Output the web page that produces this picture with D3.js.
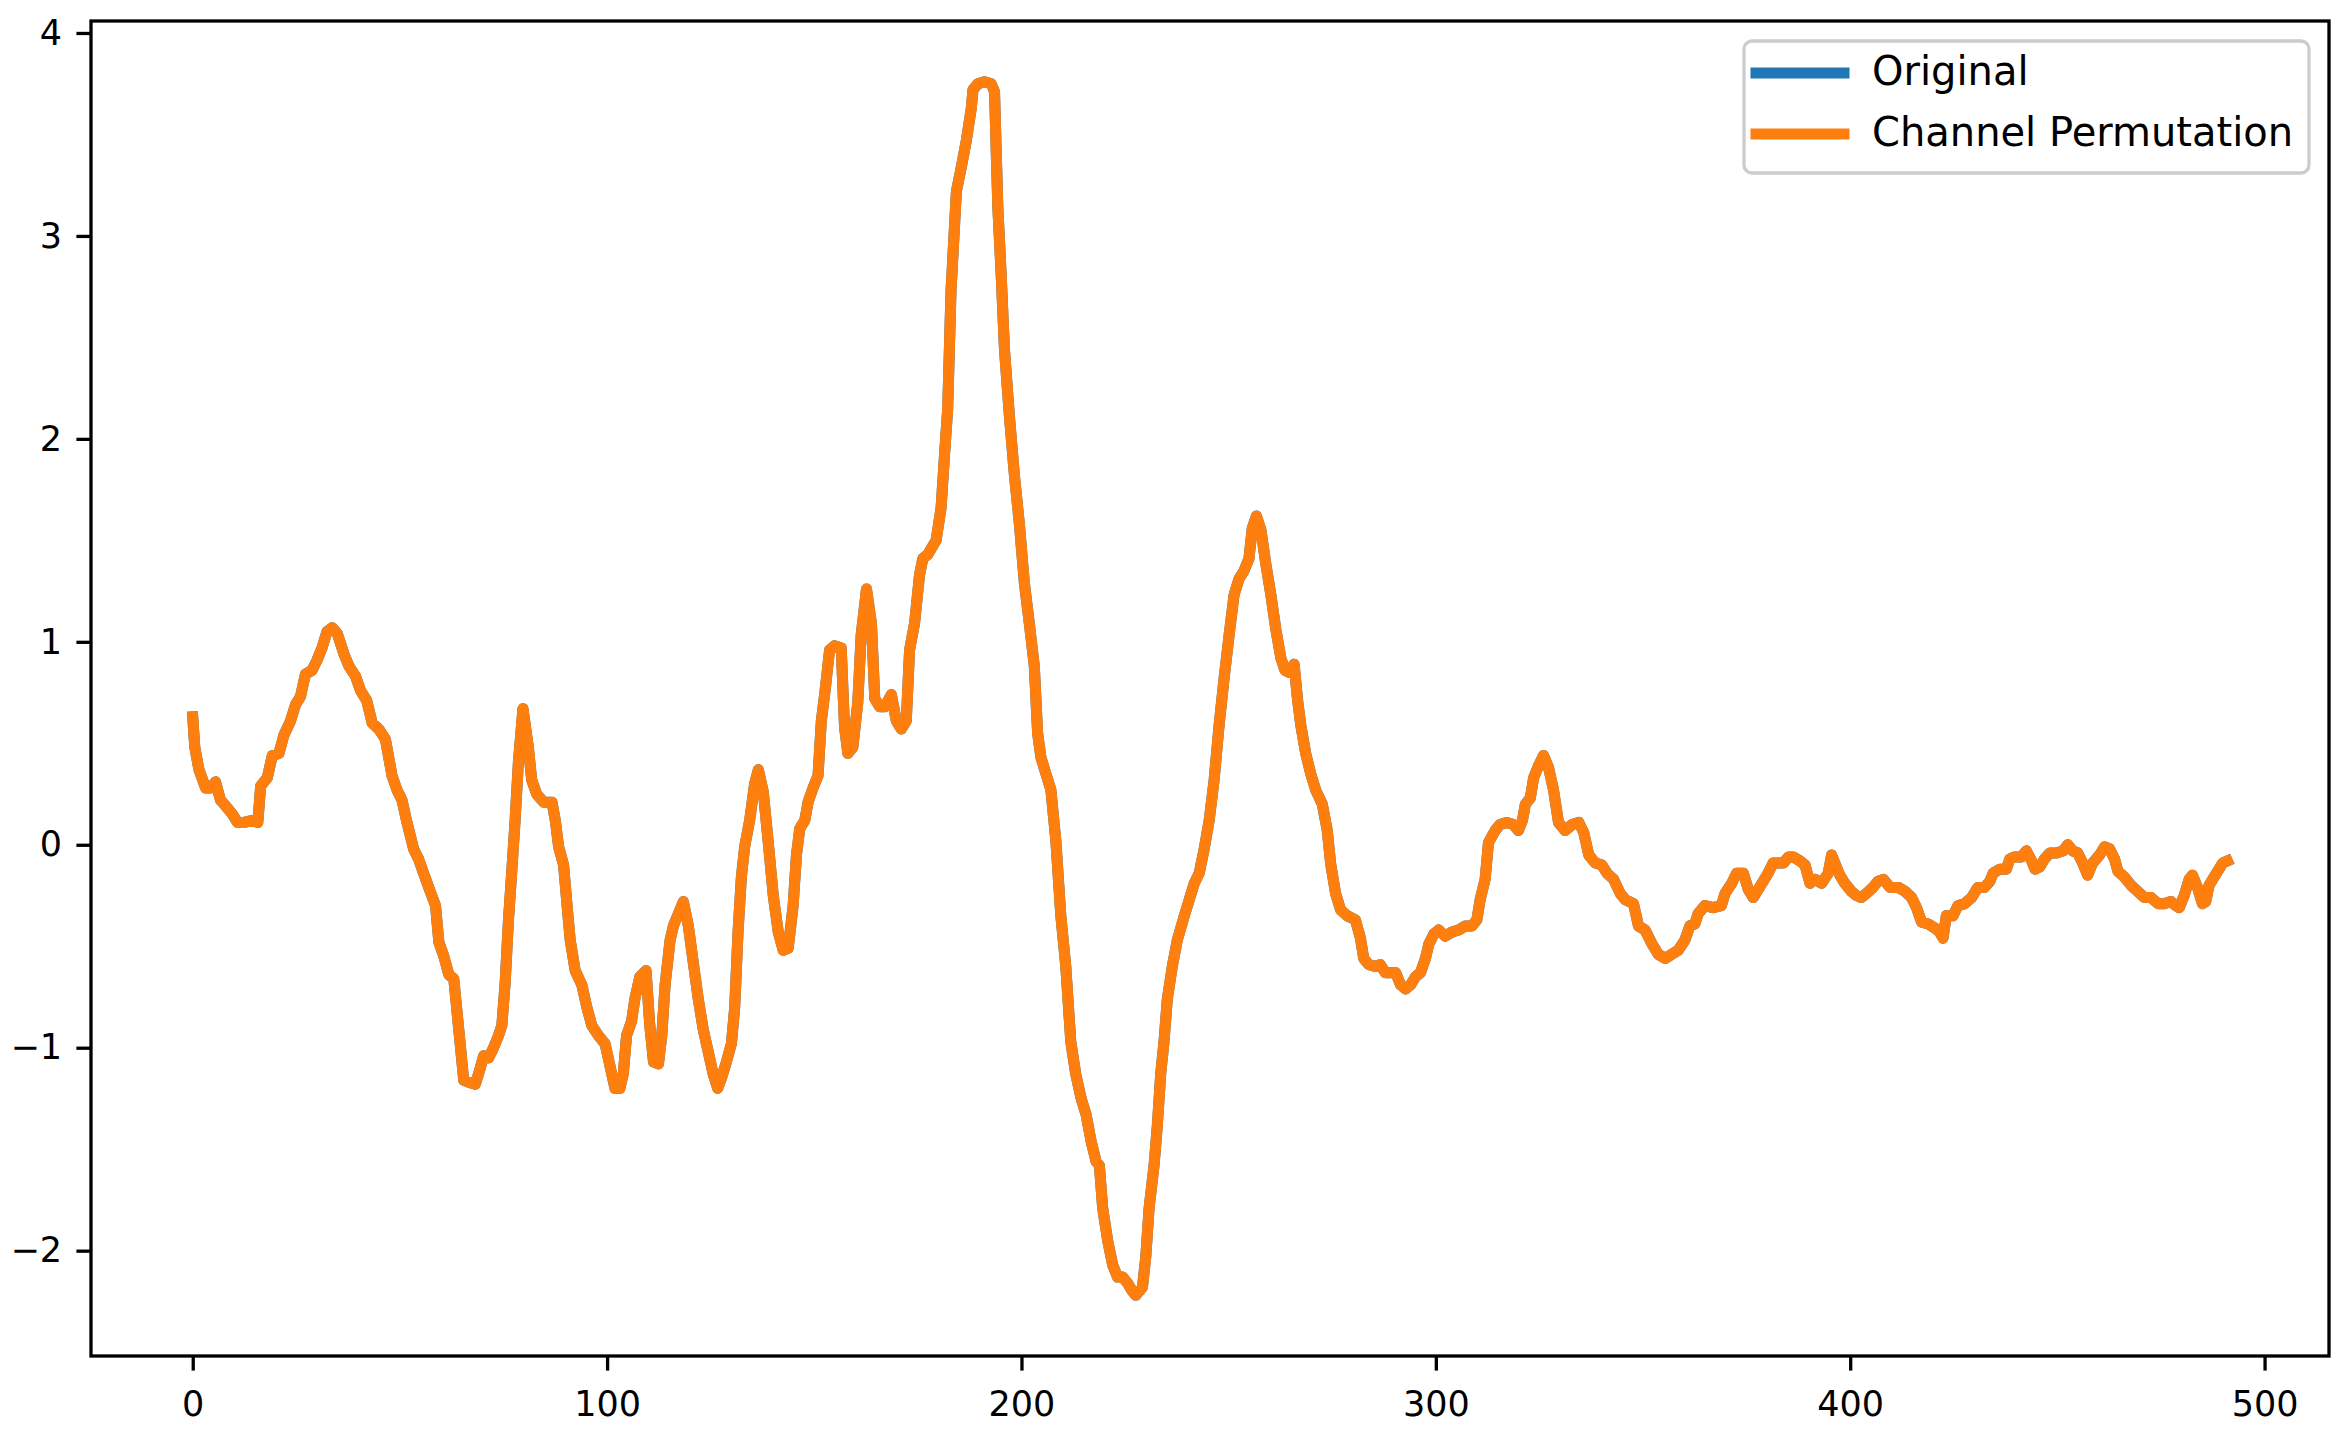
<!DOCTYPE html>
<html>
<head>
<meta charset="utf-8">
<script src="https://cdn.jsdelivr.net/npm/d3@7"></script>
<style>
  body { margin: 0; background: #fff; }
  svg { display: block; }
  text { font-family: "DejaVu Sans", sans-serif; fill: #000; }
</style>
</head>
<body>
<div id="container"><svg></svg></div>
<script>
// time step of each reading (x) and the signal value (y)
const steps = [
  0, 0.5, 1.5, 3.1, 4.3, 5.5, 6.7, 8, 9.6, 10.8, 12.4, 14.4, 15.7, 16.4, 18, 19.2, 20.8, 22, 23.6, 24.8,
  26, 27.2, 28.8, 30, 31.2, 32.4, 33.7, 34.9, 36.5, 37.7, 39.3, 40.5, 42, 43.3, 44.9, 46.5, 48.1, 49.3, 50.5, 51.7,
  53.3, 54.5, 55.7, 57.3, 58.6, 59.4, 60.6, 61.8, 63, 64.2, 65.4, 66.6, 68.2, 69.4, 70.2, 71.4, 72.6, 73.8, 74.6, 75.4,
  76.2, 77, 77.8, 78.6, 79.7, 81, 81.8, 83, 84.7, 86.7, 87.5, 88.3, 89.5, 90.3, 91.1, 92.3, 93.9, 95.1, 96.3, 97.9,
  99.5, 100.7, 101.9, 103.1, 103.9, 104.7, 105.9, 106.7, 107.9, 109.4, 110.3, 111.2, 112.4, 113.2, 114, 115.2, 116, 117.2, 118.4, 119.6,
  120.8, 122, 123.2, 124.4, 125.6, 126.7, 127.6, 128.8, 130, 130.8, 131.6, 132.4, 133.2, 134.4, 135.6, 136.5, 137.7, 138.9, 140.1, 141.3,
  142.5, 143.7, 144.9, 145.7, 146.5, 147.7, 148.5, 149.7, 150.9, 151.7, 152.5, 153.7, 154.9, 156.5, 157.3, 158.1, 159.3, 160.5, 161.3, 162.6,
  163.8, 164.6, 165.8, 167, 168.6, 169.8, 171, 172.2, 173, 174.2, 175.4, 176.2, 177.4, 179.4, 180.6, 181.4, 182.2, 183, 184.3, 185.5,
  186.7, 187.9, 188.3, 189.5, 191.1, 192.7, 193.5, 194.3, 195.1, 195.9, 197.1, 198.3, 199.5, 200.7, 201.9, 203.1, 203.9, 204.7, 205.9, 207.1,
  208.3, 209.5, 210.7, 211.9, 213.1, 214.4, 215.6, 216.8, 218, 218.8, 219.6, 220.8, 222, 223.2, 224.4, 225.6, 226.8, 227.6, 229.2, 230,
  230.8, 232, 232.8, 233.6, 234.4, 235.2, 236.4, 237.6, 239.3, 240.5, 241.7, 242.9, 244.1, 245.3, 246.5, 247.7, 248.9, 250.1, 251.3, 252.5,
  253.7, 254.9, 255.7, 256.7, 257.8, 259, 260.2, 261.4, 262.6, 263.6, 264.6, 265.8, 266.6, 267.4, 268.6, 269.8, 271, 272.6, 273.8, 274.6,
  275.8, 277, 278.6, 280.6, 281.8, 282.6, 283.8, 285.4, 286.6, 287.8, 289, 290.3, 291.5, 292.7, 293.9, 295.1, 296.3, 297.5, 298.3, 299.5,
  300.7, 302.3, 303.9, 305.5, 307.1, 308.7, 309.9, 310.7, 311.9, 312.7, 314.3, 315.5, 317.1, 318.7, 319.9, 320.9, 321.6, 322.8, 323.6, 324.8,
  326, 327.2, 328.4, 329.6, 331.2, 332.9, 334.5, 335.7, 336.9, 338.5, 340.1, 341.3, 342.9, 344.5, 345.7, 347.7, 348.9, 350.5, 352.2, 353.7,
  355.4, 356.9, 358.5, 360.1, 361.3, 362.5, 363.3, 364.9, 366.9, 368.9, 369.8, 371.4, 372.6, 374.2, 375.4, 376.6, 377.8, 379, 380.2, 381.4,
  382.7, 383.9, 385.1, 386.3, 387.9, 389.1, 390.3, 391.5, 393.1, 394.7, 395.5, 396.3, 397.5, 398.7, 400.3, 401.5, 402.7, 403.9, 405.5, 406.7,
  408, 409.6, 411.6, 413.3, 414.8, 416, 417.2, 418.8, 420.4, 421.6, 422.4, 423.2, 424.8, 426, 427.6, 429.3, 430.8, 432.4, 433.7, 434.5,
  436.1, 437.7, 438.5, 439.7, 441.3, 442.5, 443.8, 444.6, 445.7, 446.9, 448.2, 449.8, 451.4, 452.5, 453.7, 454.9, 456.1, 457.3, 458.5, 460.2,
  461.4, 462.6, 463.8, 464.6, 466.2, 467.8, 469.4, 471, 472.6, 474.3, 475.8, 477.4, 478.6, 479.4, 480.6, 481.8, 482.6, 483.8, 485, 485.8,
  486.6, 487.8, 489, 489.9, 491
];
const signal = [
  0.63, 0.48, 0.37, 0.28, 0.28, 0.31, 0.22, 0.19, 0.15, 0.11, 0.11, 0.12, 0.11, 0.29, 0.33, 0.44, 0.45, 0.54, 0.61, 0.69,
  0.73, 0.84, 0.86, 0.91, 0.97, 1.05, 1.07, 1.04, 0.94, 0.88, 0.83, 0.76, 0.71, 0.60, 0.57, 0.52, 0.34, 0.27, 0.22, 0.11,
  -0.02, -0.07, -0.14, -0.23, -0.30, -0.48, -0.55, -0.64, -0.66, -0.91, -1.16, -1.17, -1.18, -1.10, -1.04, -1.05, -1.00, -0.94, -0.89, -0.68,
  -0.37, -0.13, 0.12, 0.41, 0.67, 0.48, 0.32, 0.25, 0.21, 0.21, 0.12, -0.01, -0.10, -0.29, -0.47, -0.62, -0.69, -0.80, -0.89, -0.94,
  -0.98, -1.09, -1.20, -1.20, -1.13, -0.94, -0.87, -0.76, -0.65, -0.62, -0.89, -1.07, -1.08, -0.94, -0.69, -0.47, -0.40, -0.34, -0.28, -0.40,
  -0.58, -0.76, -0.91, -1.02, -1.13, -1.20, -1.15, -1.07, -0.98, -0.80, -0.43, -0.16, -0.01, 0.12, 0.30, 0.37, 0.26, 0.01, -0.25, -0.43,
  -0.52, -0.51, -0.30, -0.05, 0.08, 0.12, 0.21, 0.28, 0.34, 0.61, 0.74, 0.96, 0.98, 0.97, 0.58, 0.45, 0.48, 0.70, 1.03, 1.26,
  1.09, 0.72, 0.68, 0.68, 0.74, 0.61, 0.57, 0.61, 0.96, 1.09, 1.33, 1.41, 1.43, 1.50, 1.66, 1.91, 2.15, 2.73, 3.22, 3.34,
  3.47, 3.63, 3.72, 3.75, 3.76, 3.75, 3.71, 3.14, 2.81, 2.44, 2.11, 1.82, 1.58, 1.29, 1.09, 0.88, 0.55, 0.43, 0.35, 0.27,
  0.02, -0.35, -0.60, -0.97, -1.13, -1.25, -1.33, -1.46, -1.56, -1.58, -1.79, -1.95, -2.07, -2.13, -2.13, -2.16, -2.20, -2.22, -2.18, -2.03,
  -1.79, -1.58, -1.38, -1.13, -0.97, -0.76, -0.60, -0.47, -0.35, -0.27, -0.19, -0.14, -0.02, 0.12, 0.32, 0.59, 0.82, 1.03, 1.23, 1.31,
  1.35, 1.41, 1.56, 1.62, 1.55, 1.38, 1.23, 1.06, 0.92, 0.86, 0.85, 0.89, 0.72, 0.59, 0.45, 0.35, 0.27, 0.20, 0.07, -0.09,
  -0.24, -0.32, -0.35, -0.37, -0.46, -0.56, -0.59, -0.60, -0.59, -0.63, -0.63, -0.63, -0.69, -0.71, -0.69, -0.65, -0.63, -0.56, -0.49, -0.44,
  -0.42, -0.45, -0.43, -0.42, -0.40, -0.40, -0.37, -0.27, -0.17, 0.01, 0.07, 0.10, 0.11, 0.10, 0.07, 0.12, 0.20, 0.23, 0.33, 0.39,
  0.44, 0.38, 0.27, 0.11, 0.07, 0.10, 0.11, 0.06, -0.05, -0.09, -0.10, -0.14, -0.17, -0.24, -0.27, -0.29, -0.40, -0.42, -0.49, -0.54,
  -0.56, -0.54, -0.52, -0.47, -0.40, -0.39, -0.34, -0.30, -0.31, -0.30, -0.24, -0.19, -0.14, -0.14, -0.22, -0.26, -0.22, -0.18, -0.14, -0.09,
  -0.09, -0.09, -0.06, -0.06, -0.08, -0.10, -0.19, -0.17, -0.19, -0.14, -0.05, -0.09, -0.15, -0.19, -0.23, -0.25, -0.26, -0.24, -0.21, -0.18,
  -0.17, -0.21, -0.21, -0.23, -0.26, -0.31, -0.38, -0.39, -0.41, -0.43, -0.46, -0.35, -0.35, -0.30, -0.29, -0.26, -0.21, -0.21, -0.18, -0.14,
  -0.12, -0.12, -0.07, -0.06, -0.06, -0.03, -0.08, -0.12, -0.11, -0.07, -0.04, -0.04, -0.03, 0.00, -0.03, -0.04, -0.09, -0.15, -0.09, -0.05,
  -0.01, -0.02, -0.07, -0.13, -0.16, -0.20, -0.23, -0.26, -0.26, -0.29, -0.29, -0.28, -0.30, -0.31, -0.25, -0.17, -0.15, -0.21, -0.29, -0.28,
  -0.20, -0.16, -0.12, -0.09, -0.08
];
// the permuted signal lies exactly on the original one in this view
const original = signal;
const permuted = signal;

const seriesNames = ["Original", "Channel Permutation"];
const seriesColors = ["#1f77b4", "#ff7f0e"];
const xTicks = [0, 100, 200, 300, 400, 500];
const yTicks = [-2, -1, 0, 1, 2, 3, 4];

const width = 2349, height = 1435;
const margin = { left: 91, right: 20, top: 21, bottom: 79 };

function draw_chart() {
  let svg = d3.select('#container').select('svg')
    .attr('width', width)
    .attr('height', height);

  svg.append('rect').attr('width', width).attr('height', height).attr('fill', '#fff');

  // matplotlib style 5% margins around the data
  let xmin = 0, xmax = d3.max(steps);
  let ymin = d3.min(signal), ymax = d3.max(signal);
  let xpad = (xmax - xmin) * 0.05, ypad = (ymax - ymin) * 0.05;

  let x = d3.scaleLinear()
    .domain([xmin - xpad, xmax + xpad])
    .range([margin.left, width - margin.right]);
  let y = d3.scaleLinear()
    .domain([ymin - ypad, ymax + ypad])
    .range([height - margin.bottom, margin.top]);

  // lines: original first, permutation drawn over it
  let line = d3.line()
    .x((d, i) => x(steps[i]))
    .y(d => y(d));

  [original, permuted].forEach((vals, k) => {
    svg.append('path')
      .datum(vals)
      .attr('d', line)
      .attr('fill', 'none')
      .attr('stroke', seriesColors[k])
      .attr('stroke-width', 11)
      .attr('stroke-linejoin', 'round')
      .attr('stroke-linecap', 'square');
  });

  // axes
  let xAxis = svg.append('g')
    .attr('transform', `translate(0,${height - margin.bottom})`)
    .call(d3.axisBottom(x).tickValues(xTicks).tickFormat(d3.format('d')).tickSize(14.6).tickPadding(21));
  let yAxis = svg.append('g')
    .attr('transform', `translate(${margin.left},0)`)
    .call(d3.axisLeft(y).tickValues(yTicks).tickFormat(d3.format('d')).tickSize(14.6).tickPadding(14.4));

  [xAxis, yAxis].forEach(g => {
    g.select('.domain').remove();
    g.selectAll('.tick line').attr('stroke', '#000').attr('stroke-width', 3.3);
    g.selectAll('.tick text')
      .attr('font-family', '"DejaVu Sans", sans-serif')
      .attr('font-size', 35)
      .attr('fill', '#000');
  });

  // frame
  svg.append('rect')
    .attr('x', margin.left)
    .attr('y', margin.top)
    .attr('width', width - margin.left - margin.right)
    .attr('height', height - margin.top - margin.bottom)
    .attr('fill', 'none')
    .attr('stroke', '#000')
    .attr('stroke-width', 3.3);

  // legend
  let legend = svg.append('g').attr('transform', 'translate(1744,41)');
  legend.append('rect')
    .attr('width', 565)
    .attr('height', 132)
    .attr('rx', 8)
    .attr('fill', '#fff')
    .attr('fill-opacity', 0.8)
    .attr('stroke', '#cccccc')
    .attr('stroke-width', 3.3);

  seriesNames.forEach((name, i) => {
    let row = legend.append('g').attr('transform', `translate(0,${32 + i * 61})`);
    row.append('line')
      .attr('x1', 12).attr('x2', 100)
      .attr('stroke', seriesColors[i])
      .attr('stroke-width', 11)
      .attr('stroke-linecap', 'square');
    row.append('text')
      .attr('x', 128)
      .attr('y', 12)
      .attr('font-size', 40)
      .text(name);
  });
}

draw_chart();
</script>
</body>
</html>
